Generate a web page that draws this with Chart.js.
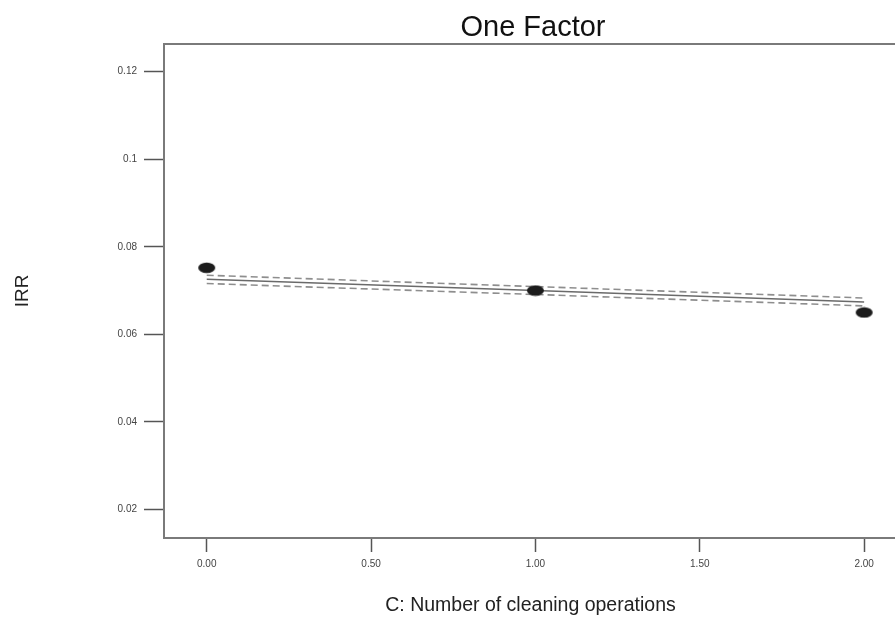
<!DOCTYPE html>
<html>
<head>
<meta charset="utf-8">
<script src="https://cdn.jsdelivr.net/npm/chart.js@4.4.1/dist/chart.umd.min.js"></script>
<style>
    html, body { margin: 0; padding: 0; background: #fff; overflow: hidden; }
    canvas { display: block; }
</style>
</head>
<body>
<canvas id="factorChart" width="904" height="644"></canvas>
<script>
// Design points (C: number of cleaning operations) and observed IRR
const xValues = [0, 1, 2];
const irrActual = [0.0752, 0.0700, 0.0650];

// Predicted line and 95% confidence band
const irrPredicted = [0.0726, 0.0700, 0.0674];
const irrUpper = [0.0735, 0.0709, 0.0683];
const irrLower = [0.0716, 0.0691, 0.0665];

// Axis ticks
const xTicks = [0, 0.5, 1, 1.5, 2];
const xTickLabels = ['0.00', '0.50', '1.00', '1.50', '2.00'];
const yTicks = [0.02, 0.04, 0.06, 0.08, 0.1, 0.12];
const yTickLabels = ['0.02', '0.04', '0.06', '0.08', '0.1', '0.12'];

const FONT = 'Arial, "Liberation Sans", sans-serif';

const toPoints = (ys) => xValues.map((x, i) => ({ x: x, y: ys[i] }));

// Filled ellipse used for the design points
function makeDot() {
    const c = document.createElement('canvas');
    c.width = 19;
    c.height = 12;
    const g = c.getContext('2d');
    g.fillStyle = '#1c1c1c';
    g.beginPath();
    g.ellipse(9.5, 6, 8.5, 5.3, 0, 0, Math.PI * 2);
    g.fill();
    return c;
}

// Box round the plot area and the title centred over it
const framePlugin = {
    id: 'frame',
    afterDraw(chart) {
        const { ctx, chartArea: a } = chart;
        ctx.save();
        ctx.strokeStyle = '#7a7a7a';
        ctx.lineWidth = 2;
        ctx.strokeRect(a.left, a.top, a.right - a.left, a.bottom - a.top);
        ctx.fillStyle = '#111';
        ctx.font = '29px ' + FONT;
        ctx.textAlign = 'center';
        ctx.textBaseline = 'middle';
        ctx.fillText('One Factor', 533, 28);
        ctx.restore();
    }
};

const ctx = document.getElementById('factorChart').getContext('2d');

new Chart(ctx, {
    type: 'scatter',
    data: {
        datasets: [
            {
                label: 'Actual',
                data: toPoints(irrActual),
                pointStyle: makeDot(),
                pointRadius: 6,
                order: 0
            },
            {
                label: 'Predicted',
                type: 'line',
                data: toPoints(irrPredicted),
                borderColor: '#6a6a6a',
                borderWidth: 1.6,
                pointRadius: 0,
                fill: false,
                order: 1
            },
            {
                label: 'Upper 95%',
                type: 'line',
                data: toPoints(irrUpper),
                borderColor: '#8e8e8e',
                borderWidth: 1.6,
                borderDash: [7, 4],
                pointRadius: 0,
                fill: false,
                order: 2
            },
            {
                label: 'Lower 95%',
                type: 'line',
                data: toPoints(irrLower),
                borderColor: '#8e8e8e',
                borderWidth: 1.6,
                borderDash: [7, 4],
                pointRadius: 0,
                fill: false,
                order: 2
            }
        ]
    },
    options: {
        responsive: false,
        animation: false,
        layout: { padding: { top: 44, left: 0, right: 0, bottom: 0 } },
        plugins: {
            legend: { display: false },
            tooltip: { enabled: false }
        },
        scales: {
            x: {
                type: 'linear',
                min: -0.13,
                max: 2.1,
                afterFit: (scale) => { scale.height = 106; },
                afterBuildTicks: (scale) => {
                    scale.ticks = xTicks.map(v => ({ value: v }));
                },
                grid: {
                    drawOnChartArea: false,
                    drawTicks: true,
                    tickLength: 14,
                    tickColor: '#555',
                    tickWidth: 1.5
                },
                border: { color: '#7a7a7a', width: 2 },
                ticks: {
                    autoSkip: false,
                    maxRotation: 0,
                    padding: 6,
                    color: '#444',
                    font: { family: FONT, size: 10 },
                    callback: (value) => xTickLabels[xTicks.indexOf(value)]
                },
                title: {
                    display: true,
                    text: 'C: Number of cleaning operations',
                    color: '#222',
                    font: { family: FONT, size: 19.5 },
                    padding: { top: 0, bottom: 27 }
                }
            },
            y: {
                type: 'linear',
                min: 0.0135,
                max: 0.1263,
                afterFit: (scale) => { scale.width = 164; },
                afterBuildTicks: (scale) => {
                    scale.ticks = yTicks.map(v => ({ value: v }));
                },
                grid: {
                    drawOnChartArea: false,
                    drawTicks: true,
                    tickLength: 20,
                    tickColor: '#555',
                    tickWidth: 1.5
                },
                border: { color: '#7a7a7a', width: 2 },
                ticks: {
                    autoSkip: false,
                    padding: 7,
                    color: '#444',
                    font: { family: FONT, size: 10 },
                    callback: (value) => yTickLabels[yTicks.indexOf(value)]
                },
                title: {
                    display: true,
                    text: 'IRR',
                    color: '#222',
                    font: { family: FONT, size: 19 },
                    padding: { top: 11, bottom: 0 }
                }
            }
        }
    },
    plugins: [framePlugin]
});
</script>
</body>
</html>
